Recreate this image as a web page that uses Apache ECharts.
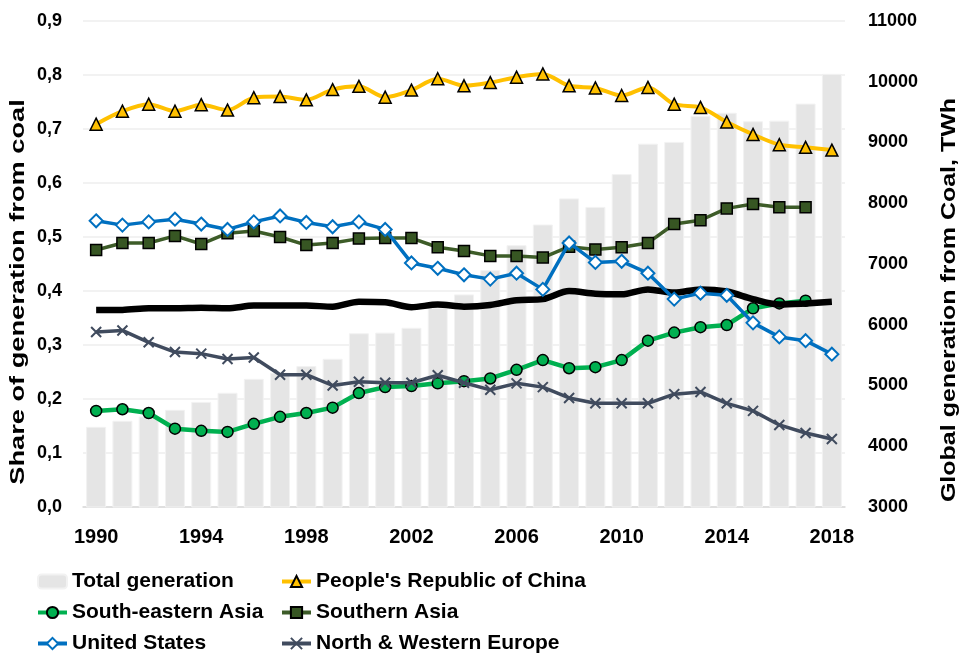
<!DOCTYPE html>
<html>
<head>
<meta charset="utf-8">
<script src="https://cdn.jsdelivr.net/npm/echarts@6/dist/echarts.min.js"></script>
<style>
  html, body { margin: 0; padding: 0; background: #fff; }
  #chart { width: 963px; height: 654px; }
</style>
</head>
<body>
<div id="chart"></div>
<script>
const years = ['1990','1991','1992','1993','1994','1995','1996','1997','1998','1999',
  '2000','2001','2002','2003','2004','2005','2006','2007','2008','2009',
  '2010','2011','2012','2013','2014','2015','2016','2017','2018']

// global coal generation, TWh (right axis)
const totalGen = [4320, 4420, 4490, 4600, 4730, 4880, 5110, 5210, 5320, 5440,
  5860, 5870, 5950, 6280, 6500, 6900, 7310, 7650, 8080, 7940,
  8480, 8980, 9010, 9440, 9490, 9350, 9360, 9640, 10130]

// shares of generation from coal (left axis)
const china = [0.709, 0.733, 0.746, 0.733, 0.745, 0.735, 0.758, 0.760, 0.754, 0.773,
  0.779, 0.759, 0.772, 0.793, 0.780, 0.786, 0.796, 0.802, 0.780, 0.776,
  0.762, 0.777, 0.746, 0.740, 0.713, 0.690, 0.671, 0.666, 0.661]
const seAsia = [0.178, 0.181, 0.174, 0.145, 0.141, 0.139, 0.154, 0.167, 0.174, 0.184,
  0.211, 0.222, 0.224, 0.229, 0.233, 0.238, 0.254, 0.272, 0.257, 0.259,
  0.272, 0.308, 0.323, 0.333, 0.337, 0.368, 0.377, 0.382, null]
const southAsia = [0.476, 0.489, 0.489, 0.502, 0.487, 0.507, 0.511, 0.500, 0.485, 0.489,
  0.497, 0.498, 0.498, 0.481, 0.474, 0.465, 0.465, 0.462, 0.482, 0.477,
  0.481, 0.489, 0.524, 0.531, 0.553, 0.561, 0.555, 0.555, null]
const usa = [0.530, 0.522, 0.528, 0.533, 0.524, 0.514, 0.528, 0.539, 0.527, 0.519,
  0.528, 0.514, 0.452, 0.442, 0.430, 0.422, 0.433, 0.403, 0.489, 0.453,
  0.455, 0.433, 0.385, 0.396, 0.392, 0.341, 0.315, 0.308, 0.283]
const europe = [0.324, 0.327, 0.305, 0.287, 0.284, 0.274, 0.277, 0.245, 0.245, 0.225,
  0.232, 0.230, 0.230, 0.244, 0.230, 0.217, 0.229, 0.222, 0.202, 0.192,
  0.192, 0.192, 0.209, 0.213, 0.192, 0.178, 0.152, 0.137, 0.126]
const world = [0.365, 0.365, 0.368, 0.368, 0.369, 0.368, 0.373, 0.373, 0.373, 0.371,
  0.380, 0.379, 0.370, 0.375, 0.371, 0.374, 0.383, 0.385, 0.400, 0.395,
  0.394, 0.403, 0.397, 0.403, 0.399, 0.385, 0.375, 0.377, 0.380]

const leftTicks = { min: 0, max: 0.9, interval: 0.1 }
const rightTicks = { min: 3000, max: 11000, interval: 1000 }

const font = "'Liberation Sans', Arial, sans-serif"

const chart = echarts.init(document.getElementById('chart'))

function lineSeries(name, data, color, width, symbol, size, itemStyle, extra) {
  return Object.assign({
    name: name,
    type: 'line',
    data: data,
    symbol: symbol,
    symbolSize: size,
    showAllSymbol: true,
    connectNulls: false,
    lineStyle: { color: color, width: width },
    itemStyle: itemStyle,
    emphasis: { disabled: true },
    z: 3
  }, extra || {})
}

const legendText = { fontFamily: font, fontWeight: 'bold', fontSize: 21, color: '#000', lineHeight: 20 }

chart.setOption({
  animation: false,
  backgroundColor: '#fff',
  grid: { left: 83, right: 118, top: 21, bottom: 147 },
  legend: [
    {
      data: ['Total generation', 'South-eastern Asia', 'United States'],
      orient: 'vertical',
      left: 36, top: 571, padding: 0,
      itemWidth: 29, itemHeight: 14, itemGap: 10,
      lineStyle: { width: 4 },
      textStyle: legendText
    },
    {
      data: ["People's Republic of China", 'Southern Asia', 'North & Western Europe'],
      orient: 'vertical',
      left: 280, top: 571, padding: 0,
      itemWidth: 29, itemHeight: 14, itemGap: 10,
      lineStyle: { width: 4 },
      textStyle: legendText
    }
  ],
  xAxis: {
    type: 'category',
    data: years,
    axisLine: { lineStyle: { color: '#d9d9d9', width: 1.5 } },
    axisTick: { show: false },
    axisLabel: {
      interval: 3, margin: 20,
      fontFamily: font, fontWeight: 'bold', fontSize: 20, color: '#000'
    }
  },
  yAxis: [
    {
      type: 'value',
      min: leftTicks.min, max: leftTicks.max, interval: leftTicks.interval,
      axisLine: { show: false },
      axisTick: { show: false },
      splitLine: { lineStyle: { color: '#eeeeee', width: 1.5 } },
      axisLabel: {
        margin: 21, fontFamily: font, fontWeight: 'bold', fontSize: 18, color: '#000',
        formatter: v => v.toFixed(1).replace('.', ',')
      }
    },
    {
      type: 'value',
      min: rightTicks.min, max: rightTicks.max, interval: rightTicks.interval,
      axisLine: { show: false },
      axisTick: { show: false },
      splitLine: { show: false },
      axisLabel: {
        margin: 23, fontFamily: font, fontWeight: 'bold', fontSize: 18, color: '#000',
        formatter: v => String(v)
      }
    }
  ],
  graphic: [
    {
      type: 'text', x: 18, y: 292, rotation: Math.PI / 2, scaleX: 1.36,
      style: {
        text: 'Share of generation from coal', fill: '#000',
        font: 'bold 20px ' + font, align: 'center', verticalAlign: 'middle'
      }
    },
    {
      type: 'text', x: 949, y: 300, rotation: Math.PI / 2, scaleX: 1.25,
      style: {
        text: 'Global generation from Coal, TWh', fill: '#000',
        font: 'bold 20px ' + font, align: 'center', verticalAlign: 'middle'
      }
    }
  ],
  series: [
    {
      name: 'Total generation',
      type: 'bar',
      yAxisIndex: 1,
      data: totalGen,
      barWidth: '76%',
      itemStyle: { color: '#e5e5e5', borderColor: '#f2f2f2', borderWidth: 1 },
      emphasis: { disabled: true },
      z: 1
    },
    lineSeries("People's Republic of China", china, '#ffc000', 4, 'triangle', 12,
      { color: '#ffc000', borderColor: '#000', borderWidth: 1.5 }, { smooth: 0.3 }),
    lineSeries('South-eastern Asia', seAsia, '#00b050', 4.5, 'circle', 11,
      { color: '#00b050', borderColor: '#000', borderWidth: 1.5 }),
    lineSeries('Southern Asia', southAsia, '#3d5c28', 3.5, 'rect', 11,
      { color: '#375623', borderColor: '#000', borderWidth: 1.5 }),
    lineSeries('World', world, '#000', 6.5, 'none', 0, { color: '#000' }, { smooth: 0.3, z: 4 }),
    lineSeries('United States', usa, '#0070c0', 3.5, 'diamond', 13,
      { color: '#fff', borderColor: '#0070c0', borderWidth: 2 }, { z: 5 }),
    lineSeries('North & Western Europe', europe, '#404b5e', 3.5, 'path://M0,0 L10,10 M10,0 L0,10', 10,
      { color: '#404b5e', borderColor: '#404b5e', borderWidth: 2 }, { z: 5 })
  ]
})
</script>
</body>
</html>
